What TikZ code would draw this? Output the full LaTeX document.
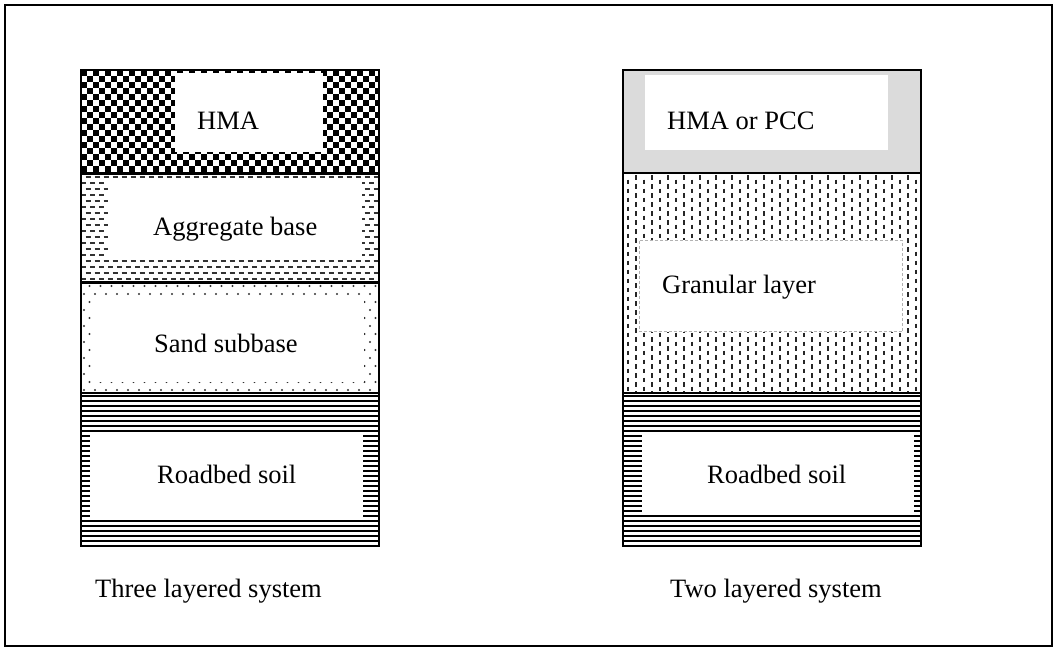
\documentclass[tikz,border=0pt]{standalone}
\usepackage{fontspec}
\setmainfont{Liberation Serif}
\begin{document}
\begin{tikzpicture}[x=1pt,y=-1pt,
  lbl/.style={font=\fontsize{26.5}{30}\selectfont, inner sep=0pt, anchor=base west},
  layer/.style={draw=black, line width=1.6pt},
  hole/.style={fill=white, draw=none}]
\useasboundingbox (0,0) rectangle (1057,648);
\draw[line width=1.8pt] (5,5) rectangle (1052,646);

% ---------- left stack ----------
% HMA checkerboard
\begin{scope}
\clip (81,70) rectangle (379,173);
\foreach \x in {81,93,...,381} {
  \foreach \y in {70,82,...,175} {
    \fill (\x,\y) rectangle +(6,6);
    \fill (\x+6,\y+6) rectangle +(6,6);
  }
}
\fill[hole] (175,73) rectangle (323,152);
\end{scope}
\draw[layer] (81,70) rectangle (379,173);

% Aggregate base dashes
\begin{scope}
\clip (81,173) rectangle (379,282);
\foreach \y [count=\k] in {177,183,...,282} {
  \pgfmathsetmacro\ph{mod(\k,2)*4.5}
  \draw[black!80, line width=1.4pt, dash pattern=on 5pt off 4pt, dash phase=\ph pt] (81,\y) -- (379,\y);
}
\fill[hole] (108,180) rectangle (362,260);
\end{scope}
\draw[layer] (81,174) rectangle (379,282);

% Sand subbase dots
\begin{scope}
\clip (81,282) rectangle (379,393);
\foreach \y [count=\k] in {286,294,...,393} {
  \pgfmathsetmacro\ph{mod(\k,2)*5.5}
  \foreach \x in {84,95,...,384} {
    \fill[black!80] (\x+\ph,\y) circle (1.1);
  }
}
\fill[hole] (91,297) rectangle (364,382);
\end{scope}
\draw[layer] (81,283) rectangle (379,393);

% Roadbed soil stripes (left)
\begin{scope}
\clip (81,393) rectangle (379,546);
\foreach \y in {396,401,...,546} {
  \draw[line width=2.2pt] (81,\y) -- (379,\y);
}
\fill[hole] (90,432) rectangle (363,517);
\end{scope}
\draw[layer] (81,393) rectangle (379,546);

% ---------- right stack ----------
\fill[black!14] (623,70) rectangle (921,173);
\fill[hole] (645,75) rectangle (888,150);
\draw[layer] (623,70) rectangle (921,173);

% Granular layer vertical dashes
\begin{scope}
\clip (623,173) rectangle (921,393);
\foreach \x [count=\k] in {628,636,...,921} {
  \pgfmathsetmacro\ph{mod(\k,2)*4.5}
  \draw[black!85, line width=1.4pt, dash pattern=on 4.5pt off 4.5pt, dash phase=\ph pt] (\x,175) -- (\x,393);
}
\fill[hole] (639,240) rectangle (903,332);
\draw[black!30, line width=0.4pt, dash pattern=on 3pt off 2pt] (639.5,240.5) rectangle (902.5,331.5);
\end{scope}
\draw[layer] (623,173) rectangle (921,393);

% Roadbed soil stripes (right)
\begin{scope}
\clip (623,393) rectangle (921,546);
\foreach \y in {396,401,...,546} {
  \draw[line width=2.2pt] (623,\y) -- (921,\y);
}
\fill[hole] (642,432) rectangle (914,513);
\end{scope}
\draw[layer] (623,393) rectangle (921,546);

% ---------- labels ----------
\node[lbl] (hma)   at (197,129) {HMA};
\node[lbl] (agg)   at (153,235) {Aggregate base};
\node[lbl] (sand)  at (154,352) {Sand subbase};
\node[lbl] (soilL) at (157,483) {Roadbed soil};
\node[lbl] (pcc)   at (667,129) {HMA or PCC};
\node[lbl] (gran)  at (662,293) {Granular layer};
\node[lbl] (soilR) at (707,483) {Roadbed soil};
\node[lbl] (cap3)  at (95,597)  {Three layered system};
\node[lbl] (cap2)  at (670,597) {Two layered system};
\end{tikzpicture}
\end{document}
